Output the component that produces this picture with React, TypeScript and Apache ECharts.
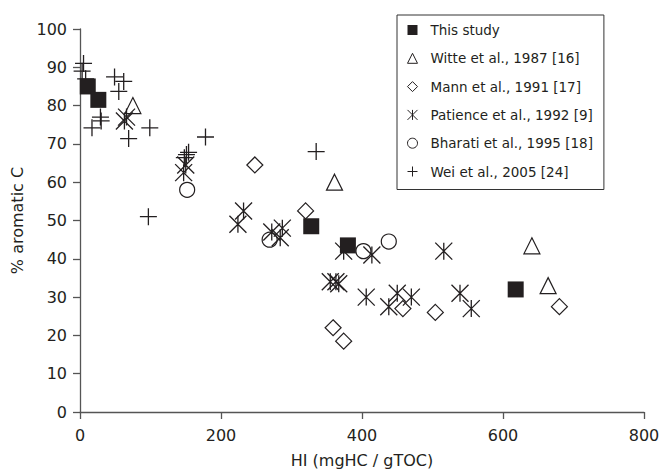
import React, { useEffect, useRef } from "react";
import * as echarts from "echarts";

const thisStudy: number[][] = [[11, 85], [26, 81.5], [328, 48.5], [380, 43.5], [618, 32]];
const witte: number[][] = [[75, 80], [361, 60], [641, 43.4], [664, 33]];
const mann: number[][] = [[248, 64.5], [320, 52.5], [359, 22], [374, 18.5], [458, 27], [504, 26], [680, 27.5]];
const patience: number[][] = [
  [66, 77], [63, 76], [147, 62.5], [150, 64.5], [232, 52.5], [224, 49], [272, 47], [287, 48], [284, 45.5],
  [374, 42], [414, 41], [516, 42], [355, 34], [363, 34], [367, 33.5], [406, 30], [450, 31], [438, 27.5],
  [470, 30], [539, 31], [555, 27],
];
const bharati: number[][] = [[152, 58], [269, 45], [402, 42], [438, 44.5]];
const wei: number[][] = [
  [5, 91], [3, 89], [8, 87], [49, 87.5], [62, 86.3], [55, 83.7], [29, 77], [30, 76], [17, 74.2],
  [69, 71.4], [99, 74.2], [178, 71.8], [148, 66.4], [151, 67.2], [154, 67.8], [97, 51], [335, 68],
];

const seriesNames = [
  "This study",
  "Witte et al., 1987 [16]",
  "Mann et al., 1991 [17]",
  "Patience et al., 1992 [9]",
  "Bharati et al., 1995 [18]",
  "Wei et al., 2005 [24]",
];

const INK = "#231f20";
const FONT = "DejaVu Sans";

const asteriskPath = "path://M0 0L10 10M10 0L0 10M5 0L5 10";
const plusPath = "path://M0 5L10 5M5 0L5 10";

export default function App() {
  const ref = useRef<HTMLDivElement>(null);
  useEffect(() => {
    if (!ref.current) return;
    const chart = echarts.init(ref.current, undefined, { renderer: "svg" });
    const hollow = { color: "transparent", borderColor: INK, borderWidth: 1.2, opacity: 1 };
    const strokeOnly = { color: "transparent", borderColor: INK, borderWidth: 1.3, opacity: 1 };
    chart.setOption({
      animation: false,
      backgroundColor: "#ffffff",
      grid: { left: 80, right: 20, top: 29, bottom: 62 },
      legend: {
        orient: "vertical",
        left: 397,
        top: 15,
        padding: [8, 11, 11, 10],
        itemWidth: 10,
        itemHeight: 10,
        itemGap: 14.3,
        borderColor: "#333",
        borderWidth: 1,
        backgroundColor: "#fff",
        itemStyle: { borderWidth: 1 },
        textStyle: { fontFamily: FONT, fontSize: 13.5, color: INK, lineHeight: 14, padding: [0, 0, 0, 8] },
        data: seriesNames,
      },
      xAxis: {
        type: "value",
        min: 0,
        max: 800,
        interval: 200,
        name: "HI (mgHC / gTOC)",
        nameLocation: "middle",
        nameGap: 40,
        nameTextStyle: { fontFamily: FONT, fontSize: 16, color: INK },
        axisLine: { show: true, onZero: false, lineStyle: { color: "#555", width: 1.3 } },
        axisTick: { show: true, length: 7, lineStyle: { color: "#555", width: 1.3 } },
        axisLabel: { fontFamily: FONT, fontSize: 16, color: INK, margin: 15 },
        splitLine: { show: false },
      },
      yAxis: {
        type: "value",
        min: 0,
        max: 100,
        interval: 10,
        name: "% aromatic C",
        nameLocation: "middle",
        nameRotate: 90,
        nameGap: 45,
        nameTextStyle: { fontFamily: FONT, fontSize: 16, color: INK },
        axisLine: { show: true, lineStyle: { color: "#555", width: 1.3 } },
        axisTick: { show: true, length: 7, lineStyle: { color: "#555", width: 1.3 } },
        axisLabel: { fontFamily: FONT, fontSize: 16, color: INK, margin: 13 },
        splitLine: { show: false },
      },
      series: [
        {
          name: seriesNames[3], type: "scatter", data: patience, symbol: asteriskPath, symbolSize: 17,
          itemStyle: strokeOnly,
        },
        {
          name: seriesNames[5], type: "scatter", data: wei, symbol: plusPath, symbolSize: 17,
          itemStyle: strokeOnly,
        },
        {
          name: seriesNames[1], type: "scatter", data: witte, symbol: "triangle", symbolSize: 16,
          itemStyle: hollow,
        },
        {
          name: seriesNames[2], type: "scatter", data: mann, symbol: "diamond", symbolSize: 16,
          itemStyle: hollow,
        },
        {
          name: seriesNames[4], type: "scatter", data: bharati, symbol: "circle", symbolSize: 15,
          itemStyle: hollow,
        },
        {
          name: seriesNames[0], type: "scatter", data: thisStudy, symbol: "rect", symbolSize: 16,
          itemStyle: { color: INK, opacity: 1 },
        },
      ],
    });
    return () => chart.dispose();
  }, []);
  return <div ref={ref} style={{ width: 664, height: 474, position: "absolute", left: 0, top: 0 }} />;
}
